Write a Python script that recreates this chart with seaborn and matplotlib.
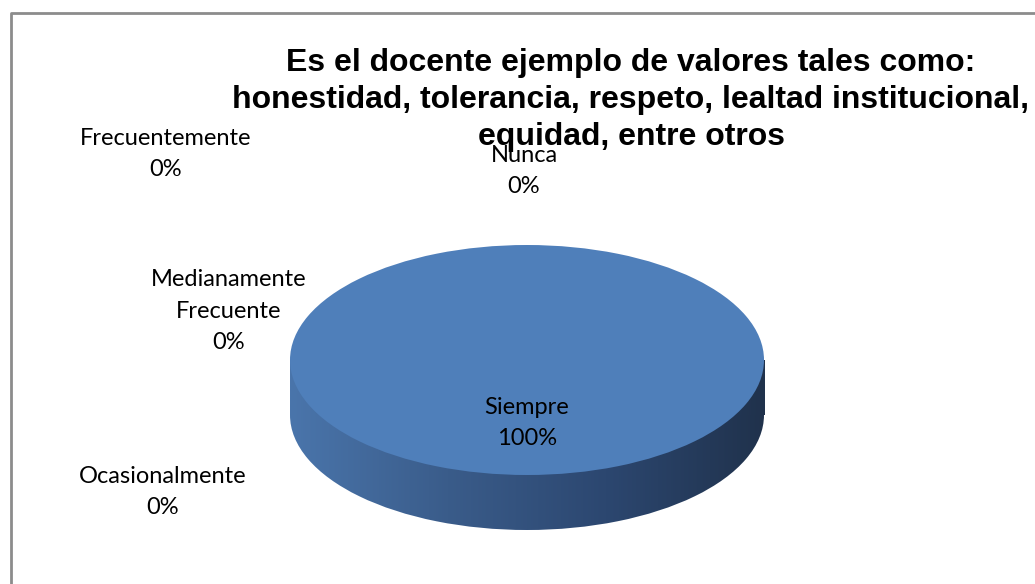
import numpy as np
import seaborn as sns
import matplotlib.pyplot as plt
from matplotlib.colors import LinearSegmentedColormap
from matplotlib.patches import Rectangle

sns.set_style("white")
plt.rcParams["font.family"] = ["Liberation Sans", "DejaVu Sans"]
plt.rcParams["text.color"] = "black"

categories = ["Siempre", "Frecuentemente", "Medianamente\nFrecuente", "Ocasionalmente", "Nunca"]
values     = [100, 0, 0, 0, 0]
pct_labels = ["100%", "0%", "0%", "0%", "0%"]

title = ("Es el docente ejemplo de valores tales como:\n"
         "honestidad, tolerancia, respeto, lealtad institucional,\n"
         "equidad, entre otros")

W, H = 1035, 584
fig = plt.figure(figsize=(W / 100, H / 100), dpi=100)

# background axes in pixel units, for frame and labels
bg = fig.add_axes([0, 0, 1, 1])
bg.set_xlim(0, W)
bg.set_ylim(H, 0)
bg.axis("off")
bg.plot([10.5, 10.5, W], [H, 12.5, 12.5], color="#8c8c8c", lw=2)

# pie axes: top ellipse center (527, 360), a=237 px, b=115 px, depth 55 px
a, b, depth = 237, 115, 55
left, top = 527 - a, 360 - b
bottom = 360 + b + depth
ax = fig.add_axes([left / W, 1 - bottom / H, 2 * a / W, (bottom - top) / H])
d = depth / b
side_cmap = LinearSegmentedColormap.from_list(
    "side", ["#4a75ab", "#3a5c8a", "#2c4770", "#20324c"])

top_color = "#4f7fba"

# bottom face of the cylinder (shifted down) and the band between faces
base_wedges, _ = ax.pie(values, radius=1, center=(0, -d), startangle=90,
                        counterclock=False, colors=[top_color] * len(values),
                        wedgeprops=dict(linewidth=0))
band = Rectangle((-1, -d), 2, d, transform=ax.transData)
grad = np.linspace(0, 1, 256).reshape(1, -1)
for clip in [base_wedges[0], band]:
    im = ax.imshow(grad, cmap=side_cmap, extent=(-1, 1, -1 - d, 1),
                   aspect="auto", zorder=2)
    im.set_clip_path(clip)
for w in base_wedges:
    w.set_visible(False)

top_wedges, _ = ax.pie(values, radius=1, center=(0, 0), startangle=90,
                       counterclock=False, colors=[top_color] * len(values),
                       wedgeprops=dict(linewidth=0))
for w in top_wedges:
    w.set_zorder(3)
ax.set_aspect("auto")
ax.set_xlim(-1, 1)
ax.set_ylim(-1 - d, 1)
ax.axis("off")

lab_font = ["Lato", "DejaVu Sans"]
# data labels
ax.text(0, -0.55, f"{categories[0]}\n{pct_labels[0]}", ha="center", va="center",
        fontsize=17, family=lab_font, zorder=4, linespacing=1.6)
label_pos = [(166, 154), (229, 311), (163, 492), (524, 171)]
for (x, y), cat, pct in zip(label_pos, categories[1:], pct_labels[1:]):
    bg.text(x, y, f"{cat}\n{pct}", ha="center", va="center", fontsize=17,
            family=lab_font, linespacing=1.6, zorder=1)

fig.text(631 / W, 1 - 100 / H, title, ha="center", va="center", fontsize=23,
         fontweight="bold", linespacing=1.3, zorder=5)

fig.savefig("out.png", dpi=100)
